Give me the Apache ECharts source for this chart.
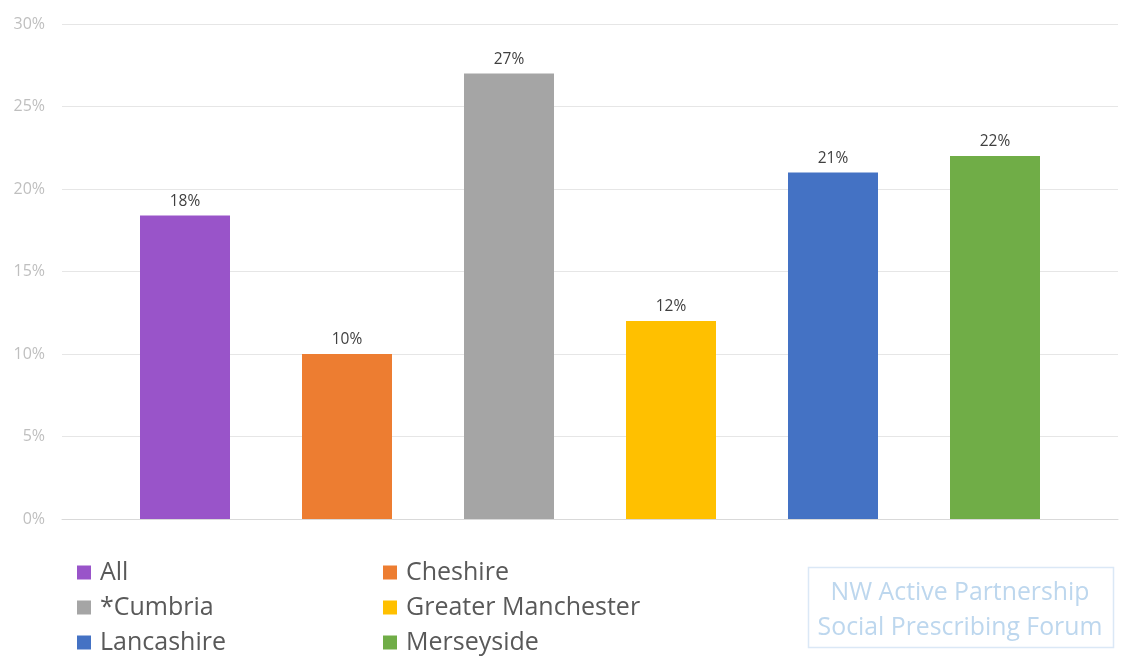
<!DOCTYPE html>
<html>
<head>
<meta charset="utf-8">
<script src="https://cdn.jsdelivr.net/npm/echarts@6/dist/echarts.min.js"></script>
<style>
html, body { margin: 0; padding: 0; background: #fff; }
#chart { width: 1147px; height: 657px; }
</style>
</head>
<body>
<div id="chart"></div>
<script>
// one category, one series per area (as in the original grouped chart)
var categories = [''];
var areaNames = ['All', 'Cheshire', '*Cumbria', 'Greater Manchester', 'Lancashire', 'Merseyside'];
var areaValues = [18.4, 10, 27, 12, 21, 22];
var areaColors = ['#9954c9', '#ed7d31', '#a5a5a5', '#ffc000', '#4472c4', '#70ad47'];
var legendLeft = ['All', '*Cumbria', 'Lancashire'];
var legendRight = ['Cheshire', 'Greater Manchester', 'Merseyside'];

var fontName = '"Open Sans", "Noto Sans", sans-serif';

var build_series = function(){
  var out = [];
  for (var i = 0; i < areaNames.length; i++) {
    out.push({
      name: areaNames[i],
      type: 'bar',
      data: [areaValues[i]],
      barWidth: 90,
      barGap: '80%',
      itemStyle: { color: areaColors[i] },
      label: {
        show: true,
        position: 'top',
        distance: 6,
        color: '#404040',
        fontSize: 15.5,
        fontFamily: fontName,
        formatter: function(p){ return Math.round(p.value) + '%'; }
      }
    });
  }
  return out;
};

var legend_style = function(left, names){
  return {
    orient: 'vertical',
    left: left,
    top: 560,
    height: 160,
    padding: 0,
    data: names,
    icon: 'rect',
    itemWidth: 14,
    itemHeight: 14,
    itemGap: 10,
    textStyle: { color: '#595959', fontSize: 25, lineHeight: 25, fontFamily: fontName, padding: [0, 0, 0, 4] }
  };
};

var chart = echarts.init(document.getElementById('chart'));
chart.setOption({
  animation: false,
  grid: { left: 62, right: 29, top: 24, bottom: 138 },
  xAxis: {
    type: 'category',
    data: categories,
    axisLine: { lineStyle: { color: '#d9d9d9' } },
    axisTick: { show: false },
    axisLabel: { show: false }
  },
  yAxis: {
    type: 'value',
    min: 0,
    max: 30,
    interval: 5,
    axisLine: { show: false },
    axisTick: { show: false },
    axisLabel: {
      formatter: '{value}%',
      color: '#bfbfbf',
      fontSize: 16,
      fontFamily: fontName,
      margin: 17
    },
    splitLine: { lineStyle: { color: '#e6e6e6' } }
  },
  legend: [legend_style(77, legendLeft), legend_style(383, legendRight)],
  graphic: [
    {
      type: 'rect',
      shape: { x: 808.5, y: 567.5, width: 305, height: 80 },
      style: { fill: 'none', stroke: '#dbe8f6', lineWidth: 1.5 }
    },
    {
      type: 'text',
      x: 960, y: 610,
      style: {
        text: 'NW Active Partnership\nSocial Prescribing Forum',
        align: 'center',
        verticalAlign: 'middle',
        fill: '#bdd7ee',
        fontSize: 24.8,
        lineHeight: 35,
        fontFamily: fontName
      }
    }
  ],
  series: build_series()
});
</script>
</body>
</html>
